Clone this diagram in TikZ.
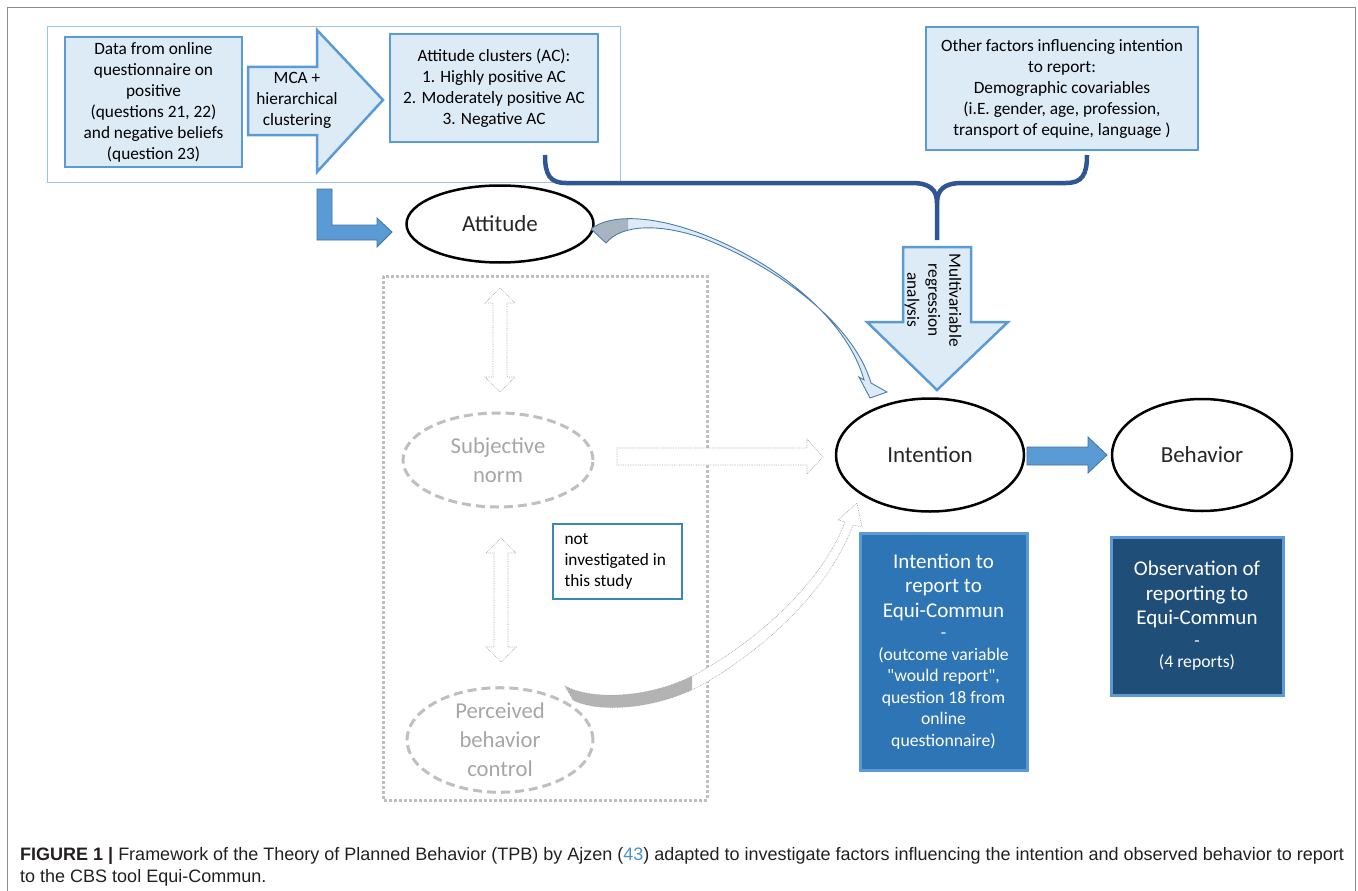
\documentclass[tikz,border=0pt]{standalone}
\usepackage{fontspec}
\setmainfont{Carlito}[Ligatures=TeXOff]
\newfontfamily\capfont{Liberation Sans}
\usetikzlibrary{shapes.geometric}
\definecolor{framegray}{HTML}{8C8C8C}
\definecolor{boxfill}{HTML}{DDEBF7}
\definecolor{boxline}{HTML}{5B9BD5}
\definecolor{groupline}{HTML}{9DC3E6}
\definecolor{bracecol}{HTML}{2F5597}
\definecolor{arrowline}{HTML}{41719C}
\definecolor{intfill}{HTML}{2E75B6}
\definecolor{obsfill}{HTML}{1F4E79}
\definecolor{faintgray}{HTML}{BFBFBF}
\definecolor{hollowgray}{HTML}{A6A6A6}
\definecolor{flaregray}{HTML}{A9B4C2}
\definecolor{noteline}{HTML}{3A87B8}
\definecolor{captext}{HTML}{231F20}
\definecolor{refblue}{HTML}{4A90C8}
\tikzset{
  lightbox/.style={draw=boxline, line width=2.5pt, fill=boxfill, align=center, inner sep=0pt,
    font=\fontsize{17.3}{21}\selectfont},
  boxtext/.style={align=center, inner sep=0pt, font=\fontsize{17.3}{21}\selectfont},
  lightarrow/.style={draw=boxline, line width=2.5pt, fill=boxfill, line join=miter},
  blockarrow/.style={draw=arrowline, line width=0.8pt, fill=boxline},
  hollowarrow/.style={draw=hollowgray, line width=0.7pt, densely dotted, fill=white},
  construct/.style={ellipse, draw=black, line width=2.5pt, inner sep=0pt, text=black!85,
    font=\fontsize{23}{28}\selectfont},
  faintconstruct/.style={ellipse, draw=faintgray, line width=3pt, dash pattern=on 9pt off 5pt,
    inner sep=0pt, align=center, text=hollowgray, font=\fontsize{22.7}{29}\selectfont},
  darkbox/.style={draw=boxline, line width=3pt, text=white, align=center, inner sep=0pt,
    font=\fontsize{17.7}{21.5}\selectfont},
  captionline/.style={anchor=west, inner sep=0pt, text=captext, font=\capfont\fontsize{18}{21}\selectfont},
}
\begin{document}
\begin{tikzpicture}
\useasboundingbox (0pt,0pt) rectangle (1358pt,-891pt);
\draw[color=framegray, line width=1pt] (7pt,-895pt) -- (7pt,-8pt) -- (1355pt,-8pt) -- (1355pt,-895pt);

% attitude clusters
\draw[color=groupline, line width=1pt] (47pt,-27pt) rectangle (620pt,-182pt);
\node[lightbox, minimum width=177pt, minimum height=130pt] (data) at (153.5pt,-102pt)
  {Data from online\\questionnaire on\\positive\\(questions 21, 22)\\and negative beliefs\\(question 23)};
\draw[lightarrow] (248pt,-67pt) -- (317pt,-67pt) -- (317pt,-30pt) -- (383pt,-100pt) -- (317pt,-172pt)
  -- (317pt,-135pt) -- (248pt,-135pt) -- cycle;
\node[boxtext] (mca) at (297pt,-100pt) {MCA +\\hierarchical\\clustering};
\node[lightbox, minimum width=208pt, minimum height=108pt] (clusters) at (494pt,-88pt)
  {Attitude clusters (AC):\\1. Highly positive AC\\2. Moderately positive AC\\3. Negative AC};
\node[lightbox, minimum width=272pt, minimum height=123pt] (other) at (1062pt,-88.5pt)
  {Other factors influencing intention\\to report:\\Demographic covariables\\(i.E. gender, age, profession,\\transport of equine, language )};

% brace and regression arrow
\coordinate (bracetip) at (937pt,-240pt);
\draw[color=bracecol, line width=4.5pt] (545pt,-155pt) .. controls (545pt,-175pt) and (550pt,-183pt) .. (566pt,-183pt)
  -- (912pt,-183pt) .. controls (930pt,-183pt) and (937pt,-190pt) .. (937pt,-203pt) -- (bracetip);
\draw[color=bracecol, line width=4.5pt] (937pt,-203pt) .. controls (937pt,-190pt) and (944pt,-183pt) .. (962pt,-183pt)
  -- (1066pt,-183pt) .. controls (1082pt,-183pt) and (1087pt,-175pt) .. (1087pt,-155pt);
\draw[lightarrow] (903pt,-247pt) -- (971pt,-247pt) -- (971pt,-322pt) -- (1008pt,-322pt) -- (937pt,-390pt)
  -- (867pt,-322pt) -- (903pt,-322pt) -- cycle;
\node[boxtext, rotate=-90] (regr) at (933pt,-300pt) {Multivariable\\regression\\analysis};

% constructs
\node[construct, minimum width=187pt, minimum height=77pt] (att) at (500pt,-224pt) {Attitude};
\draw[blockarrow] (317pt,-189pt) -- (332pt,-189pt) -- (332pt,-225pt) -- (377pt,-225pt) -- (377pt,-218pt)
  -- (392pt,-232pt) -- (377pt,-247pt) -- (377pt,-240pt) -- (317pt,-240pt) -- cycle;
\draw[color=faintgray, line width=3pt, dotted] (383pt,-276pt) rectangle (707pt,-800pt);
\node[faintconstruct, minimum width=190pt, minimum height=94pt] (norm) at (498pt,-460pt) {Subjective\\norm};
\node[faintconstruct, minimum width=186pt, minimum height=94pt] (pbc) at (500pt,-740pt) {Perceived\\behavior\\control};
\foreach \x/\ya/\yb in {500/288/392, 501/538/662}
  \draw[hollowarrow] (\x pt,-\ya pt) -- (\x pt+15pt,-\ya pt-15pt) -- (\x pt+7pt,-\ya pt-15pt) -- (\x pt+7pt,-\yb pt+15pt)
    -- (\x pt+15pt,-\yb pt+15pt) -- (\x pt,-\yb pt) -- (\x pt-15pt,-\yb pt+15pt) -- (\x pt-7pt,-\yb pt+15pt)
    -- (\x pt-7pt,-\ya pt-15pt) -- (\x pt-15pt,-\ya pt-15pt) -- cycle;
\node[draw=noteline, line width=1.2pt, minimum width=129pt, minimum height=75pt, align=left, inner sep=0pt,
  font=\fontsize{17.3}{21}\selectfont] (note) at (617.5pt,-561.5pt)
  {\makebox[106pt][l]{not}\\investigated in\\this study};
\node[construct, minimum width=188pt, minimum height=113pt] (int) at (930pt,-455pt) {Intention};
\node[construct, minimum width=180pt, minimum height=112pt] (beh) at (1202pt,-455pt) {Behavior};
\draw[hollowarrow] (617pt,-448pt) -- (807pt,-448pt) -- (807pt,-439pt) -- (823pt,-457pt) -- (807pt,-474pt)
  -- (807pt,-465pt) -- (617pt,-465pt) -- cycle;
\draw[blockarrow] (1027pt,-447pt) -- (1088pt,-447pt) -- (1088pt,-437pt) -- (1107pt,-455pt) -- (1088pt,-473pt)
  -- (1088pt,-465pt) -- (1027pt,-465pt) -- cycle;

% curved arrows into intention
\path[save path=\attband] (591pt,-229pt) .. controls (610pt,-214pt) and (652pt,-215pt) .. (702pt,-234pt)
  .. controls (782pt,-265pt) and (848pt,-322pt) .. (864pt,-380pt) -- (859pt,-377pt) -- (870pt,-398pt)
  -- (887pt,-392pt) -- (871pt,-383pt) .. controls (855pt,-328pt) and (786pt,-271pt) .. (705pt,-239pt)
  .. controls (660pt,-223pt) and (622pt,-224pt) .. (606pt,-243pt) -- cycle;
\fill[boxfill, use path=\attband];
\begin{scope}
\clip (580pt,-200pt) rectangle (628pt,-260pt);
\fill[flaregray, use path=\attband];
\end{scope}
\draw[boxline!80!black, line width=0.9pt, use path=\attband];
\path[save path=\pbcband] (565pt,-686pt) .. controls (590pt,-700pt) and (650pt,-700pt) .. (700pt,-672pt)
  .. controls (770pt,-632pt) and (825pt,-575pt) .. (845pt,-522pt) -- (838pt,-520pt) -- (857pt,-503pt)
  -- (862pt,-527pt) -- (853pt,-525pt) .. controls (833pt,-580pt) and (778pt,-640pt) .. (707pt,-682pt)
  .. controls (655pt,-712pt) and (595pt,-712pt) .. (573pt,-700pt) -- cycle;
\fill[white, use path=\pbcband];
\begin{scope}
\clip (550pt,-640pt) rectangle (692pt,-720pt);
\fill[hollowgray!85, use path=\pbcband];
\end{scope}
\draw[hollowgray, line width=0.7pt, densely dotted, use path=\pbcband];

% outcome boxes
\node[darkbox, fill=intfill, minimum width=167pt, minimum height=237pt] (intbox) at (943.5pt,-651.5pt)
  {{\fontsize{21}{25}\selectfont Intention to}\\[3pt]{\fontsize{21}{25}\selectfont report to}\\[3pt]
   {\fontsize{21}{25}\selectfont Equi-Commun}\\-\\(outcome variable\\"would report",\\question 18 from\\online\\questionnaire)};
\node[darkbox, fill=obsfill, minimum width=172pt, minimum height=158pt] (obsbox) at (1197pt,-616pt)
  {{\fontsize{21}{25}\selectfont Observation of}\\[3pt]{\fontsize{21}{25}\selectfont reporting to}\\[3pt]
   {\fontsize{21}{25}\selectfont Equi-Commun}\\-\\(4 reports)};

% caption
\node[captionline] (cap1) at (20pt,-856pt) {{\bfseries FIGURE 1 |} Framework of the Theory of Planned Behavior (TPB) by Ajzen ({\color{refblue}43}) adapted to investigate factors influencing the intention and observed behavior to report};
\node[captionline] (cap2) at (20pt,-878pt) {to the CBS tool Equi-Commun.};
\end{tikzpicture}
\end{document}
